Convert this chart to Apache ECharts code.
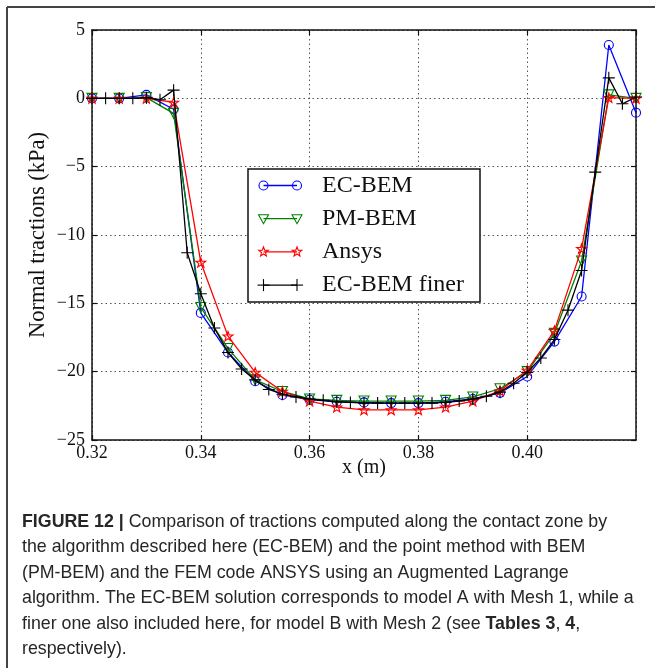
<!DOCTYPE html>
<html>
<head>
<meta charset="utf-8">
<script src="https://cdn.jsdelivr.net/npm/echarts@6/dist/echarts.min.js"></script>
<style>
html,body{margin:0;padding:0;background:#fff;}
#chart{width:655px;height:668px;}
</style>
</head>
<body>
<div id="chart"></div>
<script>
// ---- data ----
const xCoarse = [0.320,0.325,0.330,0.335,0.340,0.345,0.350,0.355,0.360,0.365,0.370,0.375,0.380,0.385,0.390,0.395,0.400,0.405,0.410,0.415,0.420];
const ecBem  = [0, 0, 0.25, -0.8, -15.7, -18.6, -20.7, -21.7, -22.05, -22.2, -22.25, -22.3, -22.3, -22.2, -22.0, -21.55, -20.35, -17.8, -14.5, 3.9, -1.05];
const pmBem  = [0, 0, 0.05, -1.1, -15.3, -18.3, -20.6, -21.45, -22.0, -22.1, -22.15, -22.15, -22.15, -22.1, -21.85, -21.25, -20.0, -17.2, -11.9, 0.25, 0];
const ansys  = [0, 0, 0, -0.3, -12.0, -17.4, -20.05, -21.45, -22.15, -22.6, -22.8, -22.8, -22.8, -22.6, -22.15, -21.4, -19.9, -17.0, -11.0, 0.05, 0];
const xFine = [0.3200,0.3225,0.3250,0.3275,0.3300,0.3325,0.3350,0.3375,0.3400,0.3425,0.3450,0.3475,0.3500,0.3525,0.3550,0.3575,0.3600,0.3625,0.3650,0.3675,0.3700,0.3725,0.3750,0.3775,0.3800,0.3825,0.3850,0.3875,0.3900,0.3925,0.3950,0.3975,0.4000,0.4025,0.4050,0.4075,0.4100,0.4125,0.4150,0.4175,0.4200];
const ecBemFiner = [0, 0, 0, 0, 0.05, -0.1, 0.6, -11.3, -14.3, -16.8, -18.6, -19.8, -20.6, -21.3, -21.65, -21.85, -22.0, -22.1, -22.2, -22.25, -22.3, -22.3, -22.3, -22.3, -22.3, -22.3, -22.25, -22.15, -22.0, -21.8, -21.5, -20.85, -20.05, -19.0, -17.65, -15.5, -12.6, -5.4, 1.5, -0.4, 0.1];
const seriesNames = ['EC-BEM', 'PM-BEM', 'Ansys', 'EC-BEM finer'];
const xTicks = [0.32, 0.34, 0.36, 0.38, 0.40];
const yTicks = [5, 0, -5, -10, -15, -20, -25];
const xName = 'x (m)';
const yName = 'Normal tractions (kPa)';
const captionLines = [
  '{b|FIGURE 12 |} Comparison of tractions computed along the contact zone by',
  'the algorithm described here (EC-BEM) and the point method with BEM',
  '(PM-BEM) and the FEM code ANSYS using an Augmented Lagrange',
  'algorithm. The EC-BEM solution corresponds to model A with Mesh 1, while a',
  'finer one also included here, for model B with Mesh 2 (see {b|Tables 3}, {b|4},',
  'respectively).'
];

// ---- styling ----
const colors = ['#0000ff', '#008000', '#ff0000', '#000000'];
const SERIF = '"Liberation Serif", "Times New Roman", serif';
const SANS = '"Liberation Sans", Arial, sans-serif';
const STAR = 'path://M0,-10 L2.35,-3.24 L9.51,-3.09 L3.8,1.24 L5.88,8.09 L0,4 L-5.88,8.09 L-3.8,1.24 L-9.51,-3.09 L-2.35,-3.24 Z';
const PLUS = 'path://M0,-10 L0,10 M-10,0 L10,0';

const zip = (xs, ys) => xs.map((x, i) => [x, ys[i]]);
const fmtY = v => (v < 0 ? '\u2212' + Math.abs(v) : String(v));
const fmtX = v => (xTicks.some(t => Math.abs(t - v) < 1e-6) ? v.toFixed(2) : '');

const gridL = 92, gridT = 30, gridW = 544, gridH = 410;

const splitStyle = { show: true, lineStyle: { color: '#555', width: 1, type: [1.5, 3] } };
const spine = { show: true, onZero: false, lineStyle: { color: '#111', width: 1.5 } };

function baseX(pos, labels) {
  return {
    type: 'value', min: 0.32, max: 0.42, interval: 0.02, position: pos,
    axisLine: spine,
    axisTick: { show: true, inside: true, length: 5, lineStyle: { color: '#111', width: 1.2 } },
    axisLabel: { show: labels, formatter: fmtX, color: '#111', fontFamily: SERIF, fontSize: 18, margin: 4, showMaxLabel: false },
    splitLine: labels ? splitStyle : { show: false }
  };
}
function baseY(pos, labels) {
  return {
    type: 'value', min: -25, max: 5, interval: 5, position: pos,
    axisLine: spine,
    axisTick: { show: true, inside: true, length: 5, lineStyle: { color: '#111', width: 1.2 } },
    axisLabel: { show: labels, formatter: fmtY, color: '#111', fontFamily: SERIF, fontSize: 18, margin: 7 },
    splitLine: labels ? splitStyle : { show: false }
  };
}

const xAxisMain = baseX('bottom', true);
xAxisMain.name = xName;
xAxisMain.nameLocation = 'middle';
xAxisMain.nameGap = 18;
xAxisMain.nameMoveOverlap = false;
xAxisMain.nameTextStyle = { fontFamily: SERIF, fontSize: 20, color: '#111', verticalAlign: 'top' };
const yAxisMain = baseY('left', true);
yAxisMain.name = yName;
yAxisMain.nameLocation = 'middle';
yAxisMain.nameGap = 42;
yAxisMain.nameMoveOverlap = false;
yAxisMain.nameTextStyle = { fontFamily: SERIF, fontSize: 22.5, color: '#111' };

const markerDefs = [
  { symbol: 'circle', size: 9, rotate: 0 },
  { symbol: 'triangle', size: 10, rotate: 180 },
  { symbol: STAR, size: 10, rotate: 0 },
  { symbol: PLUS, size: 12, rotate: 0 }
];
const seriesData = [zip(xCoarse, ecBem), zip(xCoarse, pmBem), zip(xCoarse, ansys), zip(xFine, ecBemFiner)];

const series = seriesData.map((d, i) => ({
  type: 'line',
  name: seriesNames[i],
  data: d,
  symbol: markerDefs[i].symbol,
  symbolSize: markerDefs[i].size,
  symbolRotate: markerDefs[i].rotate,
  symbolKeepAspect: true,
  showAllSymbol: true,
  lineStyle: { color: colors[i], width: 1.3 },
  itemStyle: { color: 'rgba(0,0,0,0)', borderColor: colors[i], borderWidth: 1.1 },
  emphasis: { disabled: true },
  animation: false,
  z: 2 + i
}));

// ---- legend drawn with graphic ----
const graphics = [];
const LX = 248, LY = 169, LW = 232, LH = 133;
graphics.push({ type: 'rect', shape: { x: LX, y: LY, width: LW, height: LH }, style: { fill: '#fff', stroke: '#111', lineWidth: 1.5 }, z: 100 });
const rowY0 = 185.5, rowDY = 33.2, lx1 = 263.5, lx2 = 297;
function starPts(cx, cy, R) {
  const pts = [];
  for (let k = 0; k < 10; k++) {
    const r = k % 2 === 0 ? R : R * 0.42;
    const a = -Math.PI / 2 + k * Math.PI / 5;
    pts.push([cx + r * Math.cos(a), cy + r * Math.sin(a)]);
  }
  return pts;
}
function marker(i, cx, cy) {
  const c = colors[i];
  const st = { fill: 'none', stroke: c, lineWidth: 1.1 };
  if (i === 0) return [{ type: 'circle', shape: { cx, cy, r: 4.5 }, style: st, z: 102 }];
  if (i === 1) return [{ type: 'polygon', shape: { points: [[cx - 5, cy - 4], [cx + 5, cy - 4], [cx, cy + 5]] }, style: st, z: 102 }];
  if (i === 2) return [{ type: 'polygon', shape: { points: starPts(cx, cy, 5) }, style: st, z: 102 }];
  return [
    { type: 'line', shape: { x1: cx - 6, y1: cy, x2: cx + 6, y2: cy }, style: { stroke: c, lineWidth: 1.1 }, z: 102 },
    { type: 'line', shape: { x1: cx, y1: cy - 6, x2: cx, y2: cy + 6 }, style: { stroke: c, lineWidth: 1.1 }, z: 102 }
  ];
}
seriesNames.forEach((nm, i) => {
  const y = rowY0 + i * rowDY;
  graphics.push({ type: 'line', shape: { x1: lx1, y1: y, x2: lx2, y2: y }, style: { stroke: colors[i], lineWidth: 1.3 }, z: 101 });
  graphics.push(...marker(i, lx1, y), ...marker(i, lx2, y));
  graphics.push({ type: 'text', x: 322, y: y, style: { text: nm, font: '24px ' + SERIF, fill: '#111', verticalAlign: 'middle', align: 'left' }, z: 102 });
});

// frame
graphics.push({ type: 'line', shape: { x1: 7, y1: 7, x2: 660, y2: 7 }, style: { stroke: '#444', lineWidth: 2 }, z: 1 });
graphics.push({ type: 'line', shape: { x1: 7, y1: 7, x2: 7, y2: 680 }, style: { stroke: '#444', lineWidth: 2 }, z: 1 });

// caption
const capY0 = 531, capDY = 25.5;
captionLines.forEach((t, i) => {
  graphics.push({
    type: 'text', x: 22, y: capY0 + i * capDY,
    style: {
      text: t, fontFamily: SANS, fontSize: 17.8, fill: '#262626', verticalAlign: 'bottom', align: 'left',
      rich: { b: { fontFamily: SANS, fontSize: 17.8, fontWeight: 'bold', fill: '#262626' } }
    },
    z: 1
  });
});

const chart = echarts.init(document.getElementById('chart'), null, { renderer: 'canvas' });
chart.setOption({
  animation: false,
  backgroundColor: '#fff',
  grid: { left: gridL, top: gridT, width: gridW, height: gridH, containLabel: false },
  xAxis: [xAxisMain, baseX('top', false)],
  yAxis: [yAxisMain, baseY('right', false)],
  series: series,
  graphic: { elements: graphics }
});
</script>
</body>
</html>
